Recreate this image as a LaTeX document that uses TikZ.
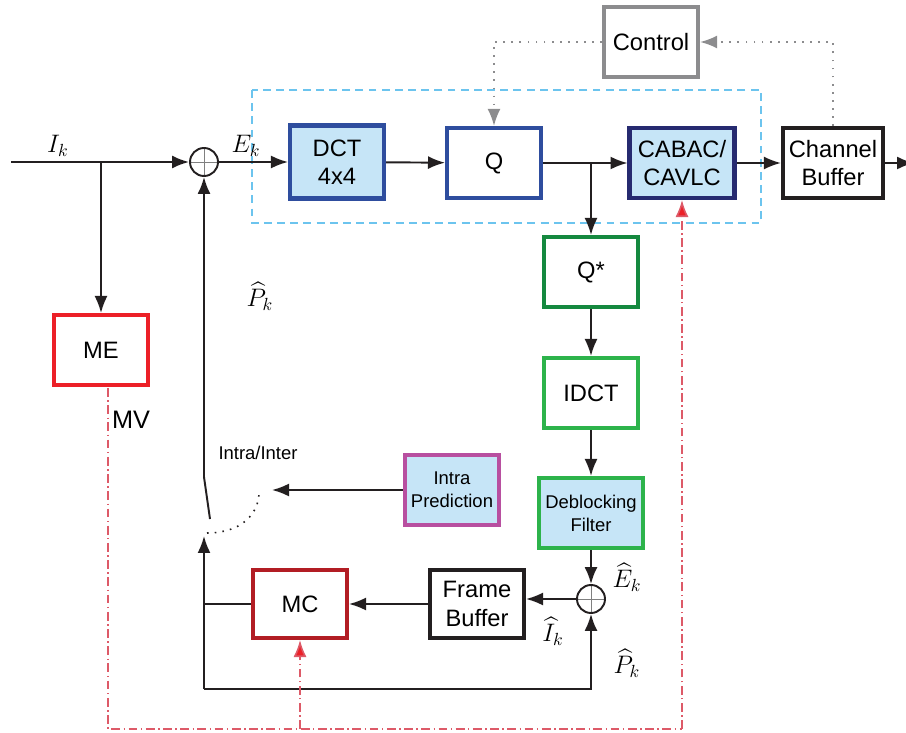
\documentclass[tikz,border=0pt]{standalone}
\usepackage{amsmath}
\usepackage{fontspec}
\setmainfont{Liberation Sans}
\usetikzlibrary{arrows.meta}

\definecolor{dctblue}{HTML}{2E4D9E}
\definecolor{cabacnavy}{HTML}{262A70}
\definecolor{lightfill}{HTML}{C6E5F7}
\definecolor{ctrlgray}{HTML}{8C8C8E}
\definecolor{qsgreen}{HTML}{15893F}
\definecolor{idctgreen}{HTML}{2DB34B}
\definecolor{intramag}{HTML}{B84FA0}
\definecolor{mered}{HTML}{EC2027}
\definecolor{mcred}{HTML}{B21D24}
\definecolor{mvred}{HTML}{DD5A68}
\definecolor{boxcyan}{HTML}{6CC4EE}
\definecolor{inkblack}{HTML}{231F20}

\begin{document}
\begin{tikzpicture}[x=0.02cm,y=-0.02cm,
  blk/.style={draw, line width=2.3pt, minimum width=1.88cm, minimum height=1.4cm,
    align=center, fill=white, font=\fontsize{13.5}{16}\selectfont},
  smallblk/.style={blk, font=\fontsize{10.5}{13}\selectfont},
  sumnode/.style={draw=inkblack, circle, line width=1.1pt, minimum size=0.56cm, inner sep=0pt,
    path picture={\draw[gray, line width=0.5pt]
      (path picture bounding box.north) -- (path picture bounding box.south)
      (path picture bounding box.west) -- (path picture bounding box.east);}},
  sig/.style={draw=inkblack, line width=1.1pt, -{Latex[length=3.4mm,width=2.6mm]}},
  wire/.style={draw=inkblack, line width=1.1pt},
  ctl/.style={draw=ctrlgray, line width=1.2pt, dash pattern=on 1pt off 3.6pt,
    -{Latex[length=3.4mm,width=2.6mm,fill=ctrlgray]}},
  mvline/.style={draw=mvred, line width=0.9pt, dash pattern=on 5pt off 2pt on 0.8pt off 2pt},
  mvarrow/.style={mvline, -{Latex[length=3.4mm,width=2.6mm,fill=mered]}},
  lbl/.style={font=\fontsize{14.4}{17}\selectfont, inner sep=0pt},
  smalllbl/.style={font=\fontsize{10.5}{13}\selectfont, inner sep=0pt}]

\useasboundingbox (0,0) rectangle (906,733);

% encoder path
\draw[boxcyan, line width=0.8pt, dash pattern=on 4.5pt off 3pt] (252,90) rectangle (761,223);
\node[sumnode] (sumA) at (204,162) {};
\node[blk, draw=dctblue, fill=lightfill, minimum height=1.46cm] (dct) at (337,162) {DCT\\4x4};
\node[blk, draw=dctblue] (q) at (494,163) {Q};
\node[blk, draw=cabacnavy, fill=lightfill, minimum width=2.1cm] (cabac) at (682,163) {CABAC/\\CAVLC};
\node[blk, draw=inkblack] (chbuf) at (833,163) {Channel\\Buffer};
\node[blk, draw=ctrlgray] (ctrl) at (651,42) {Control};
\node[blk, draw=mered] (me) at (101,350) {ME};

% reconstruction path
\node[blk, draw=qsgreen] (qs) at (591,272) {Q*};
\node[blk, draw=idctgreen] (idct) at (591,393) {IDCT};
\node[smallblk, draw=idctgreen, fill=lightfill, minimum width=2.08cm] (deblk) at (591,513) {Deblocking\\Filter};
\node[sumnode] (sumB) at (591,599) {};
\node[blk, draw=inkblack, minimum height=1.36cm] (fbuf) at (477,604) {Frame\\Buffer};
\node[blk, draw=mcred, minimum height=1.36cm] (mc) at (300,604) {MC};
\node[smallblk, draw=intramag, fill=lightfill] (intra) at (452,490) {Intra\\Prediction};

\coordinate (in) at (11,162);
\coordinate (out) at (914,163);
\coordinate (swtop) at (204,477);
\coordinate (swend) at (210,519);
\coordinate (swin) at (204,536);
\coordinate (fbk) at (204,689);
\coordinate (arcA) at (207,533);
\coordinate (arcB) at (259,492);
\coordinate (intin) at (272,490);
\coordinate (mvtop) at (108,388);
\coordinate (mvcorner) at (108,729);

\draw[sig] (in) -- (sumA);
\draw[sig] (in -| me) -- (me);
\draw[sig] (sumA) -- (dct);
\draw[sig] (dct) -- (q);
\draw[sig] (q) -- (cabac);
\draw[sig] (cabac) -- (chbuf);
\draw[sig] (chbuf) -- (out);
\draw[sig] (q.east -| qs) -- (qs);
\draw[sig] (qs) -- (idct);
\draw[sig] (idct) -- (deblk);
\draw[sig] (deblk) -- (sumB);
\draw[sig] (sumB) -- (sumB -| fbuf.east);
\draw[sig] (fbuf) -- (mc);
\draw[wire] (mc.west) -- (mc.west -| fbk);
\draw[sig] (fbk) -- (swin);
\draw[sig] (fbk) -| (sumB);
\draw[sig] (swtop) -- (sumA);
\draw[wire] (swtop) -- (swend);
\draw[inkblack, line width=0.9pt, dash pattern=on 0.9pt off 3.5pt]
  (arcA) .. controls (240,533) and (259,515) .. (arcB);
\draw[sig] (intra) -- (intin);

% rate control
\draw[ctl] (ctrl) -| (q);
\draw[ctl] (chbuf) |- (ctrl);

% motion vectors
\draw[mvline] (mvtop) -- (mvcorner) -- (mvcorner -| cabac);
\draw[mvarrow] (mvcorner -| cabac) -- (cabac);
\draw[mvarrow] (mvcorner -| mc) -- (mc);

% labels
\node[lbl] at (58,146) {$I_k$};
\node[lbl] at (246,146) {$E_k$};
\node[lbl] at (260,296) {$\widehat{P}_k$};
\node[lbl] at (131,420) {MV};
\node[smalllbl] at (258,453) {Intra/Inter};
\node[lbl] at (627,577) {$\widehat{E}_k$};
\node[lbl] at (553,631) {$\widehat{I}_k$};
\node[lbl] at (627,663) {$\widehat{P}_k$};
\end{tikzpicture}
\end{document}
